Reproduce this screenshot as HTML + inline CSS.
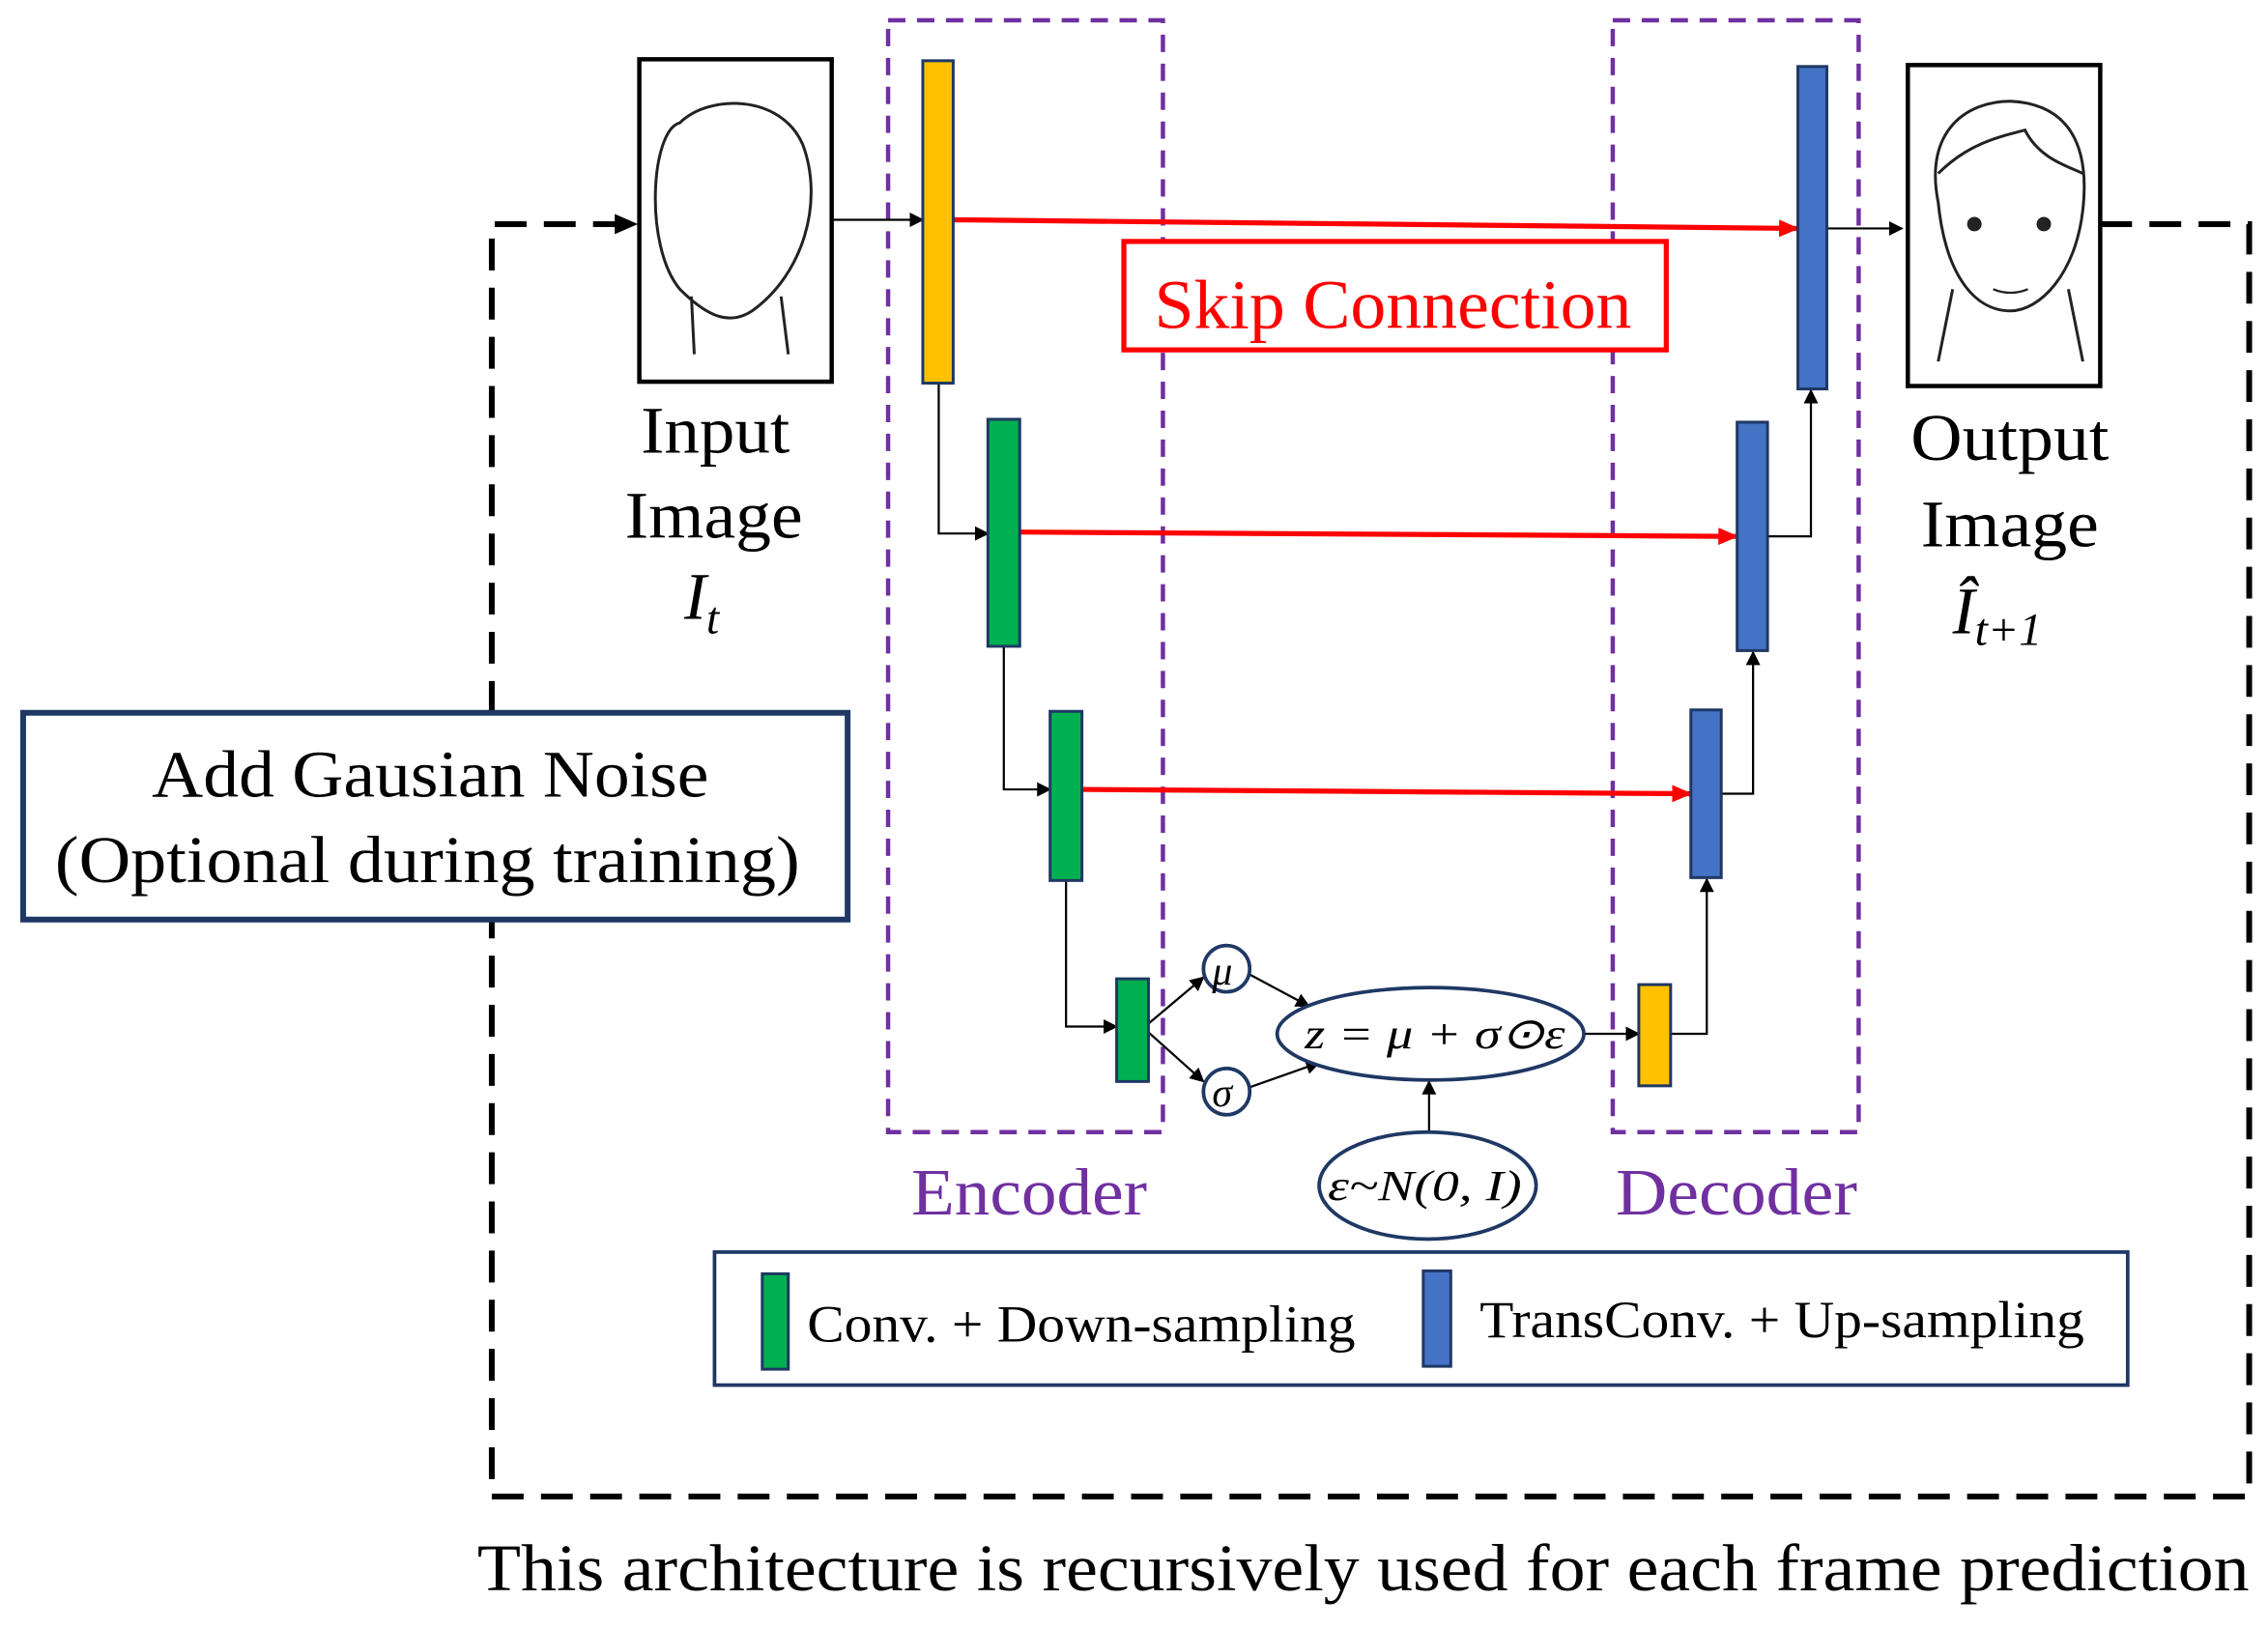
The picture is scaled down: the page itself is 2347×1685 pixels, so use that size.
<!DOCTYPE html>
<html><head><meta charset="utf-8"><style>
html,body{margin:0;padding:0;background:#fff;}
svg{display:block;}
text{font-family:"Liberation Serif",serif;}
</style></head><body>
<svg width="2347" height="1685" viewBox="0 0 1568 1126" preserveAspectRatio="none" xmlns="http://www.w3.org/2000/svg">
<defs>
<marker id="ab" markerWidth="10" markerHeight="10" refX="9" refY="5" orient="auto" markerUnits="userSpaceOnUse"><path d="M0,0 L10,5 L0,10 z" fill="#000"/></marker>
<marker id="ar" markerWidth="14" markerHeight="12" refX="13" refY="6" orient="auto" markerUnits="userSpaceOnUse"><path d="M0,0 L14,6 L0,12 z" fill="#f00"/></marker>
<marker id="abig" markerWidth="16" markerHeight="14" refX="15" refY="7" orient="auto" markerUnits="userSpaceOnUse"><path d="M0,0 L16,7 L0,14 z" fill="#000"/></marker>
</defs>

<g fill="none" stroke="#000" stroke-width="4" stroke-dasharray="22,12">
<path d="M1452,155 L1555,155 L1555,1035 L340,1035 L340,636"/>
<path d="M340,493 L340,155 L440,155" marker-end="url(#abig)"/>
</g>

<rect x="614" y="14" width="190" height="769" fill="none" stroke="#7030A0" stroke-width="3" stroke-dasharray="12,8"/>
<rect x="1115" y="14" width="170" height="769" fill="none" stroke="#7030A0" stroke-width="3" stroke-dasharray="12,8"/>

<rect x="442" y="41" width="133" height="223" fill="#fff" stroke="#000" stroke-width="3"/>
<path d="M470,200 C445,170 450,90 470,85 C490,65 540,65 555,100 C570,140 555,190 520,215 C505,225 490,220 470,200 Z M478,205 L480,245 M540,205 L545,245" fill="none" stroke="#222" stroke-width="2"/>
<rect x="1319" y="45" width="133" height="222" fill="#fff" stroke="#000" stroke-width="3"/>
<path d="M1340,140 C1330,90 1360,70 1390,70 C1430,72 1445,100 1440,145 C1435,190 1410,215 1390,215 C1365,215 1345,190 1340,140 Z M1350,200 L1340,250 M1430,200 L1440,250 M1340,120 C1360,100 1380,95 1400,90 C1410,110 1430,115 1440,120" fill="none" stroke="#222" stroke-width="2"/>
<circle cx="1365" cy="155" r="5" fill="#222"/><circle cx="1413" cy="155" r="5" fill="#222"/>
<path d="M1378,200 Q1390,205 1402,200" stroke="#222" fill="none" stroke-width="1.5"/>

<g stroke="#f00" stroke-width="3.5" fill="none">
<line x1="659" y1="152" x2="1243" y2="158" marker-end="url(#ar)"/>
<line x1="705" y1="368" x2="1201" y2="371" marker-end="url(#ar)"/>
<line x1="748" y1="546" x2="1169" y2="549" marker-end="url(#ar)"/>
</g>
<rect x="777" y="167" width="375" height="75" fill="#fff" stroke="#f00" stroke-width="3.5"/>
<text x="798" y="227" font-size="48" fill="#f00" textLength="330" lengthAdjust="spacingAndGlyphs">Skip Connection</text>

<g stroke="#000" stroke-width="1.5" fill="none">
<line x1="575" y1="152" x2="638" y2="152" marker-end="url(#ab)"/>
<path d="M649,265 L649,369 L683,369" marker-end="url(#ab)"/>
<path d="M694,447 L694,546 L726,546" marker-end="url(#ab)"/>
<path d="M737,609 L737,710 L772,710" marker-end="url(#ab)"/>
<line x1="794" y1="708" x2="832" y2="676" marker-end="url(#ab)"/>
<line x1="794" y1="714" x2="832" y2="748" marker-end="url(#ab)"/>
<line x1="864" y1="674" x2="905" y2="696" marker-end="url(#ab)"/>
<line x1="864" y1="752" x2="912" y2="735" marker-end="url(#ab)"/>
<line x1="1095" y1="715" x2="1133" y2="715" marker-end="url(#ab)"/>
<line x1="988" y1="783" x2="988" y2="748" marker-end="url(#ab)"/>
<path d="M1155,715 L1180,715 L1180,608" marker-end="url(#ab)"/>
<path d="M1190,549 L1212,549 L1212,451" marker-end="url(#ab)"/>
<path d="M1222,371 L1252,371 L1252,270" marker-end="url(#ab)"/>
<line x1="1263" y1="158" x2="1315" y2="158" marker-end="url(#ab)"/>
</g>

<g stroke="#1F3864" stroke-width="2">
<rect x="638" y="42" width="21" height="223" fill="#FFC000"/>
<rect x="683" y="290" width="22" height="157" fill="#00B050"/>
<rect x="726" y="492" width="22" height="117" fill="#00B050"/>
<rect x="772" y="677" width="22" height="71" fill="#00B050"/>
<rect x="1133" y="681" width="22" height="70" fill="#FFC000"/>
<rect x="1243" y="46" width="20" height="223" fill="#4472C4"/>
<rect x="1201" y="292" width="21" height="158" fill="#4472C4"/>
<rect x="1169" y="491" width="21" height="116" fill="#4472C4"/>
</g>

<g fill="#fff" stroke="#1F3864" stroke-width="2.5">
<circle cx="848" cy="670" r="16"/>
<circle cx="848" cy="755" r="16"/>
<ellipse cx="989" cy="715" rx="106" ry="32"/>
<ellipse cx="987" cy="820" rx="75" ry="37"/>
</g>
<g font-style="italic">
<text x="838" y="681" font-size="28">μ</text>
<text x="838" y="765" font-size="28">σ</text>
<text x="902" y="725" font-size="30" textLength="180" lengthAdjust="spacingAndGlyphs">z = μ + σ⊙ε</text>
<text x="918" y="830" font-size="30" textLength="134" lengthAdjust="spacingAndGlyphs">ε~N(0, I)</text>
</g>

<g font-size="46">
<text x="443" y="313" textLength="103" lengthAdjust="spacingAndGlyphs">Input</text>
<text x="432" y="372" textLength="123" lengthAdjust="spacingAndGlyphs">Image</text>
<text x="473" y="428" font-style="italic">I<tspan font-size="32" dy="10">t</tspan></text>
<text x="1321" y="318" textLength="137" lengthAdjust="spacingAndGlyphs">Output</text>
<text x="1328" y="378" textLength="123" lengthAdjust="spacingAndGlyphs">Image</text>
<text x="1350" y="438" font-style="italic">Î<tspan font-size="32" dy="8">t+1</tspan></text>
<text x="630" y="840" fill="#7030A0" textLength="163" lengthAdjust="spacingAndGlyphs">Encoder</text>
<text x="1117" y="840" fill="#7030A0" textLength="167" lengthAdjust="spacingAndGlyphs">Decoder</text>
</g>

<rect x="16" y="493" width="570" height="143" fill="#fff" stroke="#1F3864" stroke-width="4"/>
<text x="105" y="551" font-size="46" textLength="385" lengthAdjust="spacingAndGlyphs">Add Gausian Noise</text>
<text x="38" y="610" font-size="46" textLength="515" lengthAdjust="spacingAndGlyphs">(Optional during training)</text>

<rect x="494" y="866" width="977" height="92" fill="#fff" stroke="#1F3864" stroke-width="2.5"/>
<rect x="527" y="881" width="18" height="66" fill="#00B050" stroke="#1F3864" stroke-width="2"/>
<text x="558" y="928" font-size="36" textLength="379" lengthAdjust="spacingAndGlyphs">Conv. + Down-sampling</text>
<rect x="984" y="879" width="19" height="66" fill="#4472C4" stroke="#1F3864" stroke-width="2"/>
<text x="1023" y="925" font-size="36" textLength="418" lengthAdjust="spacingAndGlyphs">TransConv. + Up-sampling</text>

<text x="330" y="1100" font-size="46" textLength="1225" lengthAdjust="spacingAndGlyphs">This architecture is recursively used for each frame prediction</text>
</svg>
</body></html>
